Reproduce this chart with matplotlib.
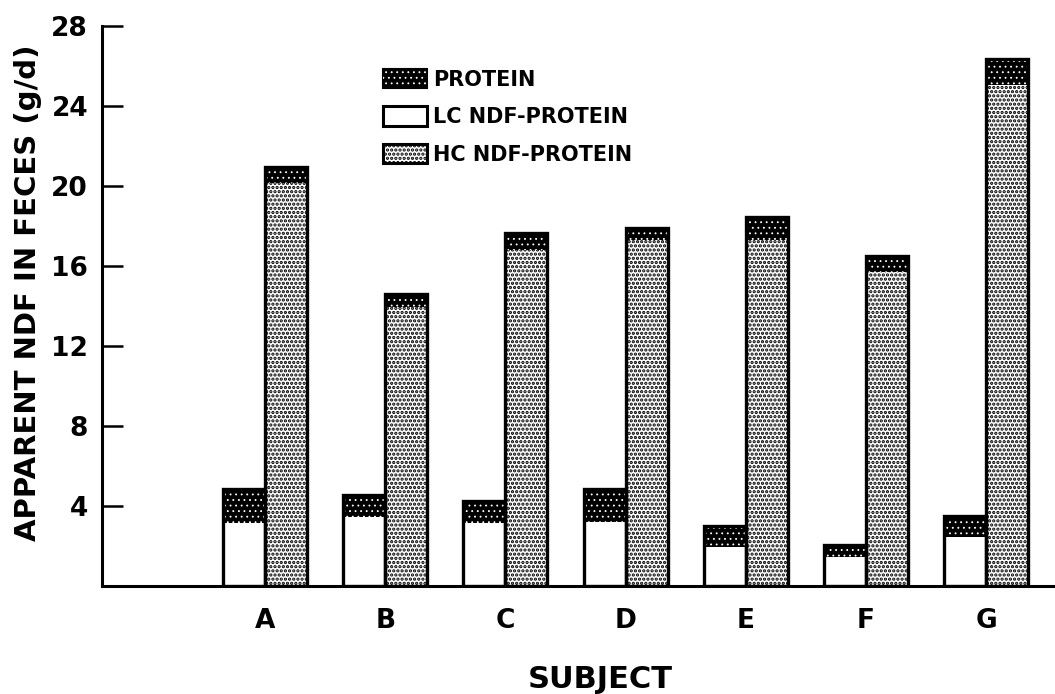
import matplotlib
matplotlib.use("Agg")
import matplotlib.pyplot as plt
import numpy as np
from matplotlib.patches import Patch
from matplotlib.legend_handler import HandlerTuple

subjects = ["A", "B", "C", "D", "E", "F", "G"]
lc_ndf = [3.15, 3.45, 3.15, 3.2, 1.95, 1.45, 2.45]
lc_protein = [1.7, 1.1, 1.1, 1.65, 1.05, 0.6, 1.05]
hc_ndf = [20.15, 13.95, 16.8, 17.3, 17.3, 15.7, 25.05]
hc_protein = [0.8, 0.65, 0.85, 0.6, 1.15, 0.8, 1.3]
yticks = [4, 8, 12, 16, 20, 24, 28]

plt.rcParams['font.family'] = ['DejaVu Sans']
plt.rcParams['font.weight'] = 'bold'

W, H = 1055, 694
fig = plt.figure(figsize=(W / 100, H / 100), dpi=100)
ax = fig.add_axes([102 / W, 1 - 586 / H, (W - 102) / W, (586 - 26) / H])

x = np.arange(len(subjects))
w = 0.35
xl = x - w / 2
xh = x + w / 2
lw = 2.4

lc_tot = np.array(lc_ndf) + np.array(lc_protein)
hc_tot = np.array(hc_ndf) + np.array(hc_protein)

HC_HATCH = '....'
PROT_HATCH = '...'
HC_HLW = 1.6
PROT_HLW = 0.6

# LC bars
ax.bar(xl, lc_ndf, w, color='white', linewidth=0, zorder=2)
ax.bar(xl, lc_protein, w, bottom=lc_ndf, color='black', linewidth=0, zorder=2)
with plt.rc_context({'hatch.linewidth': PROT_HLW}):
    ax.bar(xl, lc_protein, w, bottom=lc_ndf, color='none', edgecolor='white',
           hatch=PROT_HATCH, linewidth=0, zorder=3)
ax.bar(xl, lc_tot, w, fill=False, edgecolor='black', linewidth=lw, zorder=4)

# HC bars
with plt.rc_context({'hatch.linewidth': HC_HLW}):
    ax.bar(xh, hc_ndf, w, color='white', edgecolor='black', hatch=HC_HATCH,
           linewidth=0, zorder=2)
ax.bar(xh, hc_protein, w, bottom=hc_ndf, color='black', linewidth=0, zorder=2)
with plt.rc_context({'hatch.linewidth': PROT_HLW}):
    ax.bar(xh, hc_protein, w, bottom=hc_ndf, color='none', edgecolor='white',
           hatch=PROT_HATCH, linewidth=0, zorder=3)
ax.bar(xh, hc_tot, w, fill=False, edgecolor='black', linewidth=lw, zorder=4)

ax.set_xlim((102 - 265) / 120.2, (W - 265) / 120.2)
ax.set_ylim(0, 28)

for s in ['top', 'right']:
    ax.spines[s].set_visible(False)
ax.spines['left'].set_linewidth(2.2)
ax.spines['bottom'].set_linewidth(2.2)

ax.set_yticks(yticks)
ax.set_yticklabels([str(v) for v in yticks], fontsize=19, fontweight='bold')
ax.tick_params(axis='y', direction='in', length=15, width=1.8, pad=10)
ax.set_xticks(x)
ax.set_xticklabels(subjects, fontsize=19, fontweight='bold')
ax.tick_params(axis='x', length=0, pad=16)

ax.set_xlabel("SUBJECT", fontsize=22, fontweight='bold')
ax.xaxis.set_label_coords((600 - 102) / (W - 102), (586 - 665) / 560)
ax.xaxis.label.set_va('top')
ax.set_ylabel("APPARENT NDF IN FECES (g/d)", fontsize=21, fontweight='bold')
ax.yaxis.set_label_coords((42 - 102) / (W - 102), (586 - 293) / 560)

# Legend
prot_h = (Patch(facecolor='black', edgecolor='black', linewidth=1.5),
          Patch(facecolor='none', edgecolor='white', hatch=PROT_HATCH, linewidth=0))
lc_h = Patch(facecolor='white', edgecolor='black', linewidth=2.2)
hc_fill = Patch(facecolor='white', edgecolor='black', hatch=HC_HATCH, linewidth=0)
hc_h = (hc_fill, Patch(facecolor='none', edgecolor='black', linewidth=2.2))
leg = ax.legend([prot_h, lc_h, hc_h],
                ["PROTEIN", "LC NDF-PROTEIN", "HC NDF-PROTEIN"],
                handler_map={tuple: HandlerTuple(ndivide=1, pad=0)},
                loc='upper left', bbox_to_anchor=(383 / W, 1 - 69 / H),
                bbox_transform=fig.transFigure, frameon=False,
                fontsize=15, handlelength=2.1, handleheight=1.05,
                labelspacing=0.8, handletextpad=0.3, borderpad=0,
                borderaxespad=0)
for t in leg.get_texts():
    t.set_fontweight('bold')

# match hatch dot sizes in legend to the bars
for p in leg.findobj(Patch):
    if p.get_hatch():
        ec = p.get_edgecolor()
        val = PROT_HLW if ec[0] > 0.5 else HC_HLW
        if hasattr(p, 'set_hatch_linewidth'):
            p.set_hatch_linewidth(val)
        else:
            p._hatch_linewidth = val

fig.savefig("out.png", dpi=100)
